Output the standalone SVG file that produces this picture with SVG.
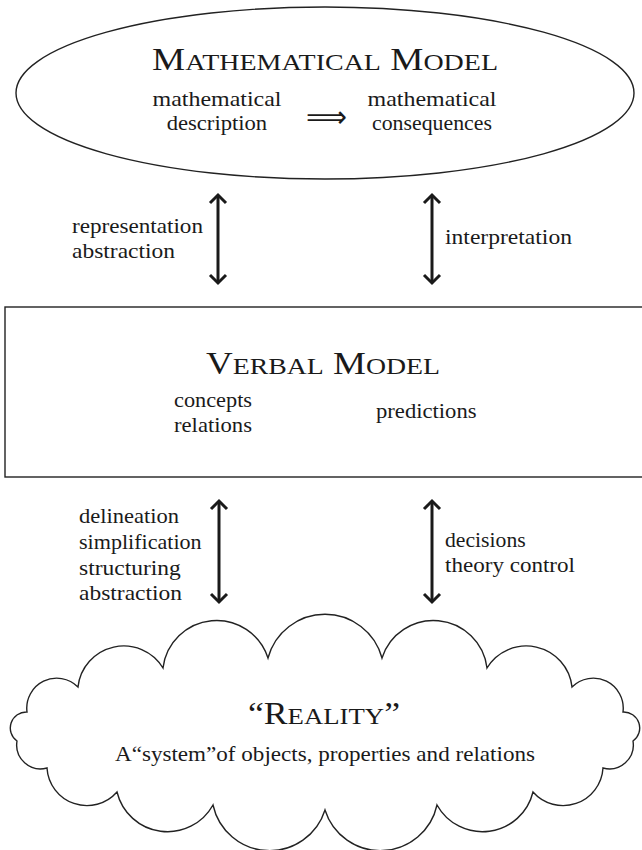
<svg xmlns="http://www.w3.org/2000/svg" width="642" height="850" viewBox="0 0 642 850">
<style>
  .shape { fill: #ffffff; stroke: #222222; stroke-width: 1.4; }
  .t { font-family: "Liberation Serif", "Times New Roman", serif; font-size: 22px; fill: #1a1a1a; }
  .ttl { font-family: "Liberation Serif", "Times New Roman", serif; font-size: 32px; fill: #1a1a1a; }
  .sc { font-size: 24px; }
  .sym { font-family: "DejaVu Sans", sans-serif; font-size: 30px; fill: #1a1a1a; }
  .arr { stroke: #1a1a1a; stroke-width: 3; fill: none; marker-start: url(#ah); marker-end: url(#ah); }
</style>
<defs>
  <marker id="ah" viewBox="-12 -12 24 24" markerWidth="24" markerHeight="24" refX="0" refY="0" orient="auto-start-reverse" markerUnits="userSpaceOnUse">
    <path d="M -8 -8 L 0 0 L -8 8" fill="none" stroke="#1a1a1a" stroke-width="3" stroke-linejoin="miter"/>
  </marker>
</defs>
<rect x="0" y="0" width="642" height="850" fill="#ffffff"/>

<g id="mathematical-model">
  <ellipse class="shape" cx="325" cy="93" rx="309" ry="86"/>
  <text class="ttl" x="152" y="70" textLength="346" lengthAdjust="spacingAndGlyphs">M<tspan class="sc">ATHEMATICAL</tspan> M<tspan class="sc">ODEL</tspan></text>
  <text class="t" x="152.5" y="106" textLength="129" lengthAdjust="spacingAndGlyphs">mathematical</text>
  <text class="t" x="166.7" y="130" textLength="100.5" lengthAdjust="spacingAndGlyphs">description</text>
  <text class="sym" x="306" y="127" textLength="41" lengthAdjust="spacingAndGlyphs">⟹</text>
  <text class="t" x="367.5" y="106" textLength="129" lengthAdjust="spacingAndGlyphs">mathematical</text>
  <text class="t" x="372" y="130" textLength="120" lengthAdjust="spacingAndGlyphs">consequences</text>
</g>

<g id="verbal-model">
  <rect class="shape" x="5" y="307" width="645" height="170"/>
  <text class="ttl" x="206" y="374" textLength="234" lengthAdjust="spacingAndGlyphs">V<tspan class="sc">ERBAL</tspan> M<tspan class="sc">ODEL</tspan></text>
  <text class="t" x="174" y="407" textLength="78" lengthAdjust="spacingAndGlyphs">concepts</text>
  <text class="t" x="174" y="432" textLength="78" lengthAdjust="spacingAndGlyphs">relations</text>
  <text class="t" x="376" y="418" textLength="100.5" lengthAdjust="spacingAndGlyphs">predictions</text>
</g>

<g id="reality">
  <path class="shape" d="M 163 668 A 54 54 0 0 1 268 658 A 59 59 0 0 1 382 658 A 54 54 0 0 1 487 668 A 46 46 0 0 1 572 687 A 30 30 0 0 1 623 712 A 16 16 0 0 1 633 741 A 24 24 0 0 1 603 768 A 40 40 0 0 1 533 792 A 52 52 0 0 1 437 805 A 58 58 0 0 1 325 810 A 58 58 0 0 1 213 805 A 52 52 0 0 1 117 792 A 40 40 0 0 1 47 768 A 24 24 0 0 1 17 741 A 16 16 0 0 1 27 712 A 30 30 0 0 1 78 687 A 46 46 0 0 1 163 668 Z"/>
  <text class="ttl" x="248" y="724" textLength="152" lengthAdjust="spacingAndGlyphs">“R<tspan class="sc">EALITY</tspan>”</text>
  <text class="t" x="115" y="761" textLength="420" lengthAdjust="spacingAndGlyphs">A“system”of objects, properties and relations</text>
</g>

<g id="connectors">
  <line class="arr" x1="218" y1="195" x2="218" y2="283"/>
  <line class="arr" x1="432" y1="195" x2="432" y2="283"/>
  <line class="arr" x1="219" y1="501" x2="219" y2="602"/>
  <line class="arr" x1="432" y1="501" x2="432" y2="602"/>
  <text class="t" x="72" y="233" textLength="131" lengthAdjust="spacingAndGlyphs">representation</text>
  <text class="t" x="72" y="258" textLength="103" lengthAdjust="spacingAndGlyphs">abstraction</text>
  <text class="t" x="445" y="244" textLength="127" lengthAdjust="spacingAndGlyphs">interpretation</text>
  <text class="t" x="79" y="523" textLength="100" lengthAdjust="spacingAndGlyphs">delineation</text>
  <text class="t" x="79" y="549" textLength="122.6" lengthAdjust="spacingAndGlyphs">simplification</text>
  <text class="t" x="79" y="575" textLength="101.8" lengthAdjust="spacingAndGlyphs">structuring</text>
  <text class="t" x="79" y="600" textLength="103" lengthAdjust="spacingAndGlyphs">abstraction</text>
  <text class="t" x="445" y="547" textLength="80.7" lengthAdjust="spacingAndGlyphs">decisions</text>
  <text class="t" x="445" y="572" textLength="130" lengthAdjust="spacingAndGlyphs">theory control</text>
</g>
</svg>
